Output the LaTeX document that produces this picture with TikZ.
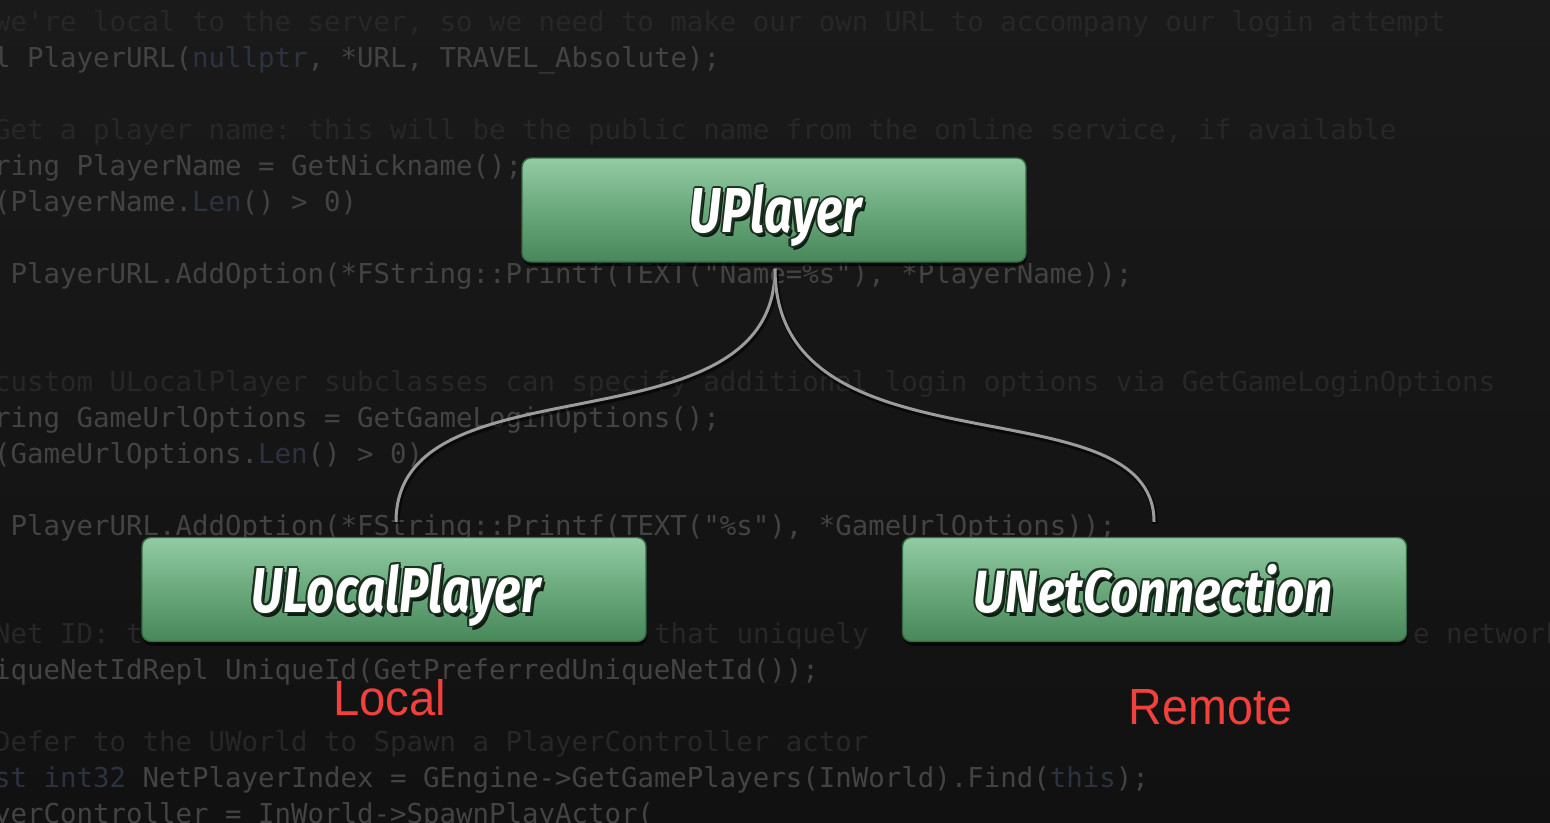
\documentclass[tikz,border=0pt]{standalone}
\usepackage{fontspec}
\usepackage{graphicx}
\usetikzlibrary{calc,shadows}
\setmonofont{DejaVu Sans Mono}
\newfontfamily\boxfont{Fira Sans}
\newfontfamily\lblfont{Liberation Sans}
\definecolor{bgtop}{HTML}{1A1A1A}
\definecolor{bgbot}{HTML}{111111}
\definecolor{codec}{HTML}{434343}
\definecolor{cmtc}{HTML}{272727}
\definecolor{kwc}{HTML}{2D3240}
\definecolor{boxtop}{HTML}{93CBA3}
\definecolor{boxmid}{HTML}{6AA97C}
\definecolor{boxbot}{HTML}{47875A}
\definecolor{boxedge}{HTML}{356B45}
\definecolor{tline}{HTML}{1C3322}
\definecolor{tshadow}{HTML}{101C13}
\definecolor{curvec}{HTML}{9C9C9C}
\definecolor{redlbl}{HTML}{F2403C}
\newcommand{\outlined}[1]{\leavevmode
 \rlap{\kern0.06em\raisebox{-0.07em}{\textcolor{tshadow}{#1}}}%
 \rlap{\kern-0.04em\textcolor{tline}{#1}}%
 \rlap{\kern0.04em\textcolor{tline}{#1}}%
 \rlap{\raisebox{0.03em}{\textcolor{tline}{#1}}}%
 \rlap{\raisebox{-0.03em}{\textcolor{tline}{#1}}}%
 \rlap{\kern-0.03em\raisebox{0.022em}{\textcolor{tline}{#1}}}%
 \rlap{\kern0.03em\raisebox{0.022em}{\textcolor{tline}{#1}}}%
 \rlap{\kern-0.03em\raisebox{-0.022em}{\textcolor{tline}{#1}}}%
 \rlap{\kern0.03em\raisebox{-0.022em}{\textcolor{tline}{#1}}}%
 \textcolor{white}{#1}}
\newcommand{\K}[1]{\textcolor{kwc}{#1}}
\begin{document}
\begin{tikzpicture}[x=1pt,y=1pt,
  code/.style={anchor=base west,inner sep=0pt,text=codec,font=\ttfamily\fontsize{27.4}{36}\selectfont},
  cmt/.style={code,text=cmtc},
  classbox/.style={draw=boxedge,line width=1.4pt,rounded corners=9pt,
    minimum width=504pt,minimum height=104pt,inner sep=0pt,
    top color=boxtop,bottom color=boxbot,middle color=boxmid,
    drop shadow={shadow xshift=1pt,shadow yshift=-4pt,opacity=.7,fill=black}},
  boxtxt/.style={anchor=base,inner sep=0pt,font=\boxfont\bfseries\itshape},
  curve/.style={draw=curvec,line width=3pt,
    preaction={draw=black,opacity=.55,line width=5.5pt,transform canvas={shift={(1pt,-2pt)}}}},
  lbl/.style={anchor=base,inner sep=0pt,text=redlbl,font=\lblfont}]
\useasboundingbox (0,0) rectangle (1550,-822);
\clip (0,0) rectangle (1550,-822);
\shade[top color=bgtop,bottom color=bgbot] (0,0) rectangle (1550,-822);
% background code
\node[cmt] (l0) at (-6,-31) {we're local to the server, so we need to make our own URL to accompany our login attempt};
\node[code] (l1) at (-6,-67) {l PlayerURL(\K{nullptr}, *URL, TRAVEL\_Absolute);};
\node[cmt] (l3) at (-6,-139) {Get a player name: this will be the public name from the online service, if available};
\node[code] (l4) at (-6,-175) {ring PlayerName = GetNickname();};
\node[code] (l5) at (-6,-211) {(PlayerName.\K{Len}() > 0)};
\node[code] (l7) at (10.5,-283) {PlayerURL.AddOption(*FString::Printf(TEXT("Name=\%s"), *PlayerName));};
\node[cmt] (l10) at (-6,-391) {custom ULocalPlayer subclasses can specify additional login options via GetGameLoginOptions};
\node[code] (l11) at (-6,-427) {ring GameUrlOptions = GetGameLoginOptions();};
\node[code] (l12) at (-6,-463) {(GameUrlOptions.\K{Len}() > 0)};
\node[code] (l14) at (10.5,-535) {PlayerURL.AddOption(*FString::Printf(TEXT("\%s"), *GameUrlOptions));};
\node[cmt] (l17a) at (-6,-643) {Net ID: t};
\node[cmt] (l17b) at (654,-643) {that uniquely};
\node[cmt] (l17c) at (1413,-643) {e network};
\node[code] (l18) at (-6,-679) {iqueNetIdRepl UniqueId(GetPreferredUniqueNetId());};
\node[cmt] (l20) at (-6,-751) {Defer to the UWorld to Spawn a PlayerController actor};
\node[code] (l21) at (-6,-787) {\K{st int32} NetPlayerIndex = GEngine->GetGamePlayers(InWorld).Find(\K{this});};
\node[code] (l22) at (-6,-823) {yerController = InWorld->SpawnPlayActor(};
% class boxes
\node[classbox] (up) at (774,-210) {};
\node[classbox] (ulp) at (394,-589.5) {};
\node[classbox] (unc) at (1154.5,-589.5) {};
\node[boxtxt] (upt) at (776,-232.5) {\resizebox{172pt}{50pt}{\outlined{UPlayer}}};
\node[boxtxt] (ulpt) at (396,-612) {\resizebox{289pt}{50pt}{\outlined{ULocalPlayer}}};
\node[boxtxt] (unct) at (1153.5,-612) {\resizebox{359pt}{50pt}{\outlined{UNetConnection}}};
% connectors
\draw[curve] ($(up.south)+(1,-6)$) .. controls +(0,-188) and +(0,168) .. ($(ulp.north)+(2,15)$);
\draw[curve] ($(up.south)+(1,-6)$) .. controls +(0,-212) and +(0,143) .. ($(unc.north)+(-0.5,15)$);
% labels
\node[lbl] (loc) at (389.5,-715) {\resizebox{113pt}{36pt}{Local}};
\node[lbl] (rem) at (1210.5,-724) {\resizebox{163pt}{35pt}{Remote}};
\end{tikzpicture}
\end{document}
